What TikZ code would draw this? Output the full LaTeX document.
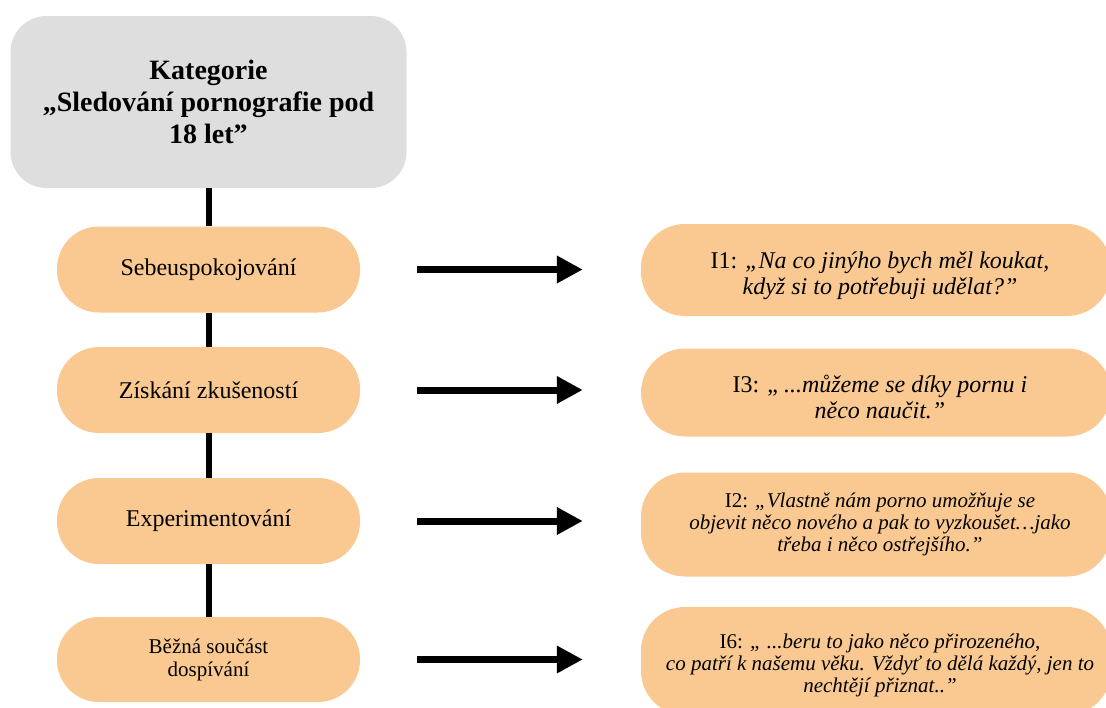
\documentclass[tikz,border=0pt]{standalone}
\usepackage{fontspec}
\setmainfont{Liberation Serif}
\usetikzlibrary{arrows.meta}
\definecolor{peach}{HTML}{FAC992}
\definecolor{lgray}{HTML}{DEDEDE}
\begin{document}
\begin{tikzpicture}[x=1pt,y=-1pt,
  catbox/.style={fill=lgray, rounded corners=36pt, minimum width=396pt, minimum height=172pt, inner sep=0pt, align=center, font=\fontsize{28}{32}\selectfont\bfseries},
  leftbox/.style={fill=peach, rounded corners=42pt, minimum width=303pt, minimum height=86pt, inner sep=0pt, align=center, font=\fontsize{24}{28}\selectfont},
  rightbox/.style={fill=peach, rounded corners=44pt, minimum width=470pt, inner sep=0pt},
  quote/.style={align=center, inner sep=0pt, font=\fontsize{24}{26}\selectfont\itshape},
  smallquote/.style={align=center, inner sep=0pt, font=\fontsize{21}{22}\selectfont\itshape},
  link/.style={line width=6pt},
  arr/.style={line width=7pt, -{Triangle[length=26pt,width=26pt]}, shorten <=57pt, shorten >=58pt}
]
\useasboundingbox (0,0) rectangle (1106,707);
\clip (0,0) rectangle (1106,707);

\node[catbox] (cat) at (208.5,102) {Kategorie\\„Sledování pornografie pod\\18 let”};

\node[leftbox] (l1) at (208.5,269.5) {Sebeuspokojování};
\node[leftbox] (l2) at (208.5,390) {Získání zkušeností};
\node[leftbox] (l3) at (208.5,521) {Experimentování};
\node[leftbox, minimum height=85pt, font=\fontsize{21}{23}\selectfont] (l4) at (208.5,659.5) {Běžná součást\\dospívání};

\node[rightbox, minimum height=92pt] (r1) at (876,270) {};
\node[rightbox, minimum height=88pt] (r2) at (876,392.5) {};
\node[rightbox, minimum height=104pt] (r3) at (876,524.5) {};
\node[rightbox, minimum height=108pt] (r4) at (876,661) {};

\node[quote] (q1) at (880,276) {\textup{I1: }„Na co jinýho bych měl koukat,\\když si to potřebuji udělat?”};
\node[quote] (q2) at (880,397) {\textup{I3: „ }...můžeme se díky pornu i\\něco naučit.”};
\node[smallquote] (q3) at (880,524.5) {\textup{I2: }„Vlastně nám porno umožňuje se\\objevit něco nového a pak to vyzkoušet…jako\\třeba i něco ostřejšího.”};
\node[smallquote] (q4) at (880,665) {\textup{I6: }„ ...beru to jako něco přirozeného,\\co patří k našemu věku. Vždyť to dělá každý, jen to\\nechtějí přiznat..”};

\draw[link] (cat.south) -- (l1.north);
\draw[link] (l1.south) -- (l2.north);
\draw[link] (l2.south) -- (l3.north);
\draw[link] (l3.south) -- (l4.north);

\draw[arr] (l1.east) -- (l1.east -| r1.west);
\draw[arr] (l2.east) -- (l2.east -| r2.west);
\draw[arr] (l3.east) -- (l3.east -| r3.west);
\draw[arr] (l4.east) -- (l4.east -| r4.west);
\end{tikzpicture}
\end{document}
